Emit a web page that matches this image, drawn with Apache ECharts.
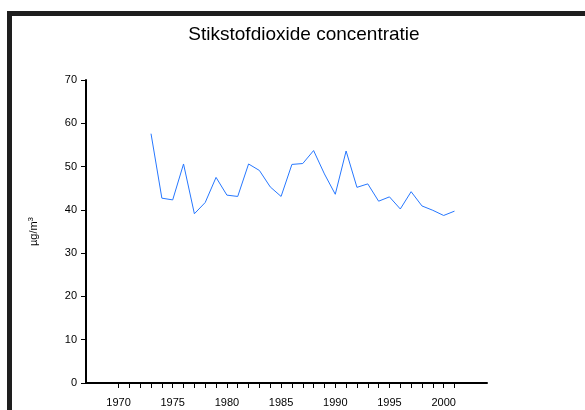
<!DOCTYPE html>
<html>
<head>
<meta charset="utf-8">
<script src="https://cdn.jsdelivr.net/npm/echarts@6/dist/echarts.min.js"></script>
<style>
  html, body { margin: 0; padding: 0; background: #fff; }
  #main { width: 585px; height: 410px; }
</style>
</head>
<body>
<div id="main"></div>
<script>
// axis years (category axis spans 1967..2004)
var years = []
for (var y = 1967; y <= 2004; y++) years.push(String(y))

var dataYears = [1973, 1974, 1975, 1976, 1977, 1978, 1979, 1980, 1981, 1982,
  1983, 1984, 1985, 1986, 1987, 1988, 1989, 1990, 1991, 1992,
  1993, 1994, 1995, 1996, 1997, 1998, 1999, 2000, 2001]
var no2Values = [57.6, 42.7, 42.3, 50.6, 39.1, 41.7, 47.5, 43.4, 43.1, 50.6,
  49.1, 45.3, 43.1, 50.5, 50.7, 53.7, 48.3, 43.6, 53.6, 45.2,
  46.0, 42.0, 43.0, 40.2, 44.2, 40.9, 39.9, 38.7, 39.7]

var seriesData = years.map(function (yr) {
  var i = dataYears.indexOf(Number(yr))
  return i >= 0 ? no2Values[i] : null
})

var font = 'Liberation Sans, Arial, sans-serif'
var chart = echarts.init(document.getElementById('main'))
chart.setOption({
  animation: false,
  title: {
    text: 'Stikstofdioxide concentratie',
    left: 299,
    top: 20,
    textAlign: 'center',
    textStyle: { fontFamily: font, fontSize: 19, fontWeight: 'normal', color: '#000' }
  },
  graphic: [
    { type: 'rect', shape: { x: 7, y: 11, width: 578, height: 5 }, style: { fill: '#1e1e1e' } },
    { type: 'rect', shape: { x: 7, y: 11, width: 5, height: 399 }, style: { fill: '#1e1e1e' } }
  ],
  grid: { left: 86, right: 98, top: 80, bottom: 27 },
  xAxis: {
    type: 'category',
    data: years,
    boundaryGap: false,
    axisLine: { lineStyle: { color: '#000', width: 2 } },
    axisTick: {
      length: 5,
      lineStyle: { color: '#000', width: 1 },
      interval: function (idx, val) { return Number(val) >= 1970 && Number(val) <= 2001 }
    },
    axisLabel: {
      margin: 14,
      color: '#000',
      fontFamily: font,
      fontSize: 11,
      interval: function (idx, val) { var n = Number(val); return n % 5 === 0 && n >= 1970 && n <= 2000 }
    },
    splitLine: { show: false }
  },
  yAxis: {
    type: 'value',
    min: 0,
    max: 70,
    interval: 10,
    name: 'µg/m{sup|3}',
    nameLocation: 'middle',
    nameGap: 46,
    nameTextStyle: {
      fontFamily: font, fontSize: 11, color: '#000',
      rich: { sup: { fontFamily: font, fontSize: 8, color: '#000', verticalAlign: 'top', padding: [0, 0, 5, 0] } }
    },
    axisLine: { show: true, lineStyle: { color: '#000', width: 2 } },
    axisTick: { show: true, length: 5, lineStyle: { color: '#000', width: 1 } },
    axisLabel: { margin: 9, color: '#000', fontFamily: font, fontSize: 11 },
    splitLine: { show: false }
  },
  series: [
    {
      type: 'line',
      data: seriesData,
      showSymbol: false,
      symbol: 'none',
      lineStyle: { color: '#2677ff', width: 1 },
      connectNulls: false
    }
  ]
})
</script>
</body>
</html>
